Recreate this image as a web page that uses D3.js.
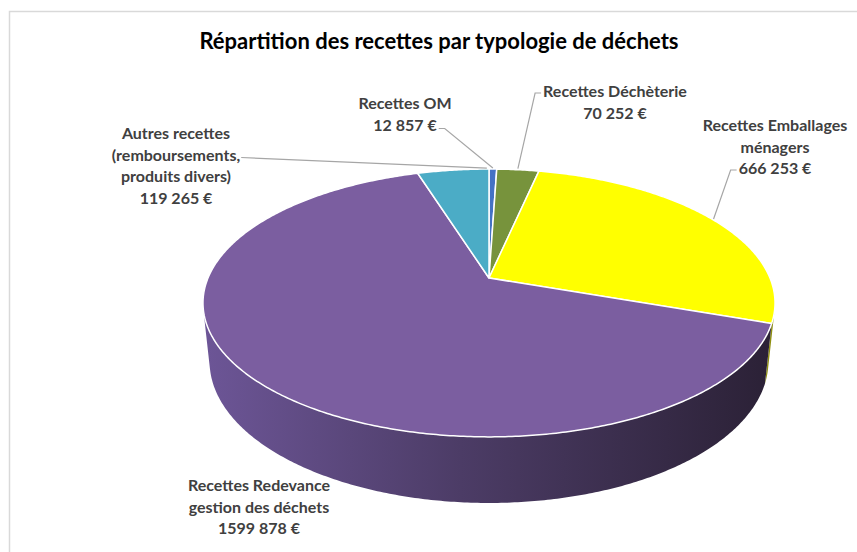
<!DOCTYPE html>
<html>
<head>
<meta charset="utf-8">
<script src="https://cdn.jsdelivr.net/npm/d3@7"></script>
<style>
  body { margin: 0; background: #fff; }
  svg { display: block; }
</style>
</head>
<body>
<svg id="chart" width="857" height="552"></svg>
<script>
// data, in pie order (clockwise from 12 o'clock)
const categories = ['Recettes OM', 'Recettes Déchèterie', 'Recettes Emballages ménagers',
    'Recettes Redevance gestion des déchets', 'Autres recettes (remboursements, produits divers)'];
const values = [12857, 70252, 666253, 1599878, 119265];
const valueLabels = ['12 857 €', '70 252 €', '666 253 €', '1599 878 €', '119 265 €'];
const labelLines = [
    ['Recettes OM', '12 857 €'],
    ['Recettes Déchèterie', '70 252 €'],
    ['Recettes Emballages', 'ménagers', '666 253 €'],
    ['Recettes Redevance', 'gestion des déchets', '1599 878 €'],
    ['Autres recettes', '(remboursements,', 'produits divers)', '119 265 €']
];

const topColors = ['#4472C4', '#77933C', '#FFFF00', '#7B5EA0', '#4BACC6'];
const sideColors = ['#2F4F8A', '#52672A', '#8F8F10', null, '#34798B'];

const width = 857;
const height = 552;

// 3d view
const cx = 489;
const cy = 278;
const A = 281;          // scale
const RD = 0.21;        // radius / camera distance
const sinA = 0.46;
const cosA = Math.sqrt(1 - sinA * sinA);
const thick = 0.236;    // thickness / radius

function projXYZ(X, y, Z) {
    const yc = y * cosA + Z * sinA;
    const zc = 1 + RD * (Z * cosA - y * sinA);
    return [cx + A * X / zc, cy - A * yc / zc];
}

function proj(theta, y) {
    return projXYZ(Math.sin(theta), y, Math.cos(theta));
}

function arcPoints(a0, a1, y) {
    const n = Math.max(2, Math.ceil((a1 - a0) / 0.01));
    return d3.range(n + 1).map(i => proj(a0 + (a1 - a0) * i / n, y));
}

const svg = d3.select('#chart');
const line = d3.line();

// chart border
svg.append('rect')
    .attr('x', 9.5).attr('y', 11.5)
    .attr('width', width).attr('height', height)
    .attr('fill', '#fff')
    .attr('stroke', '#d9d9d9')
    .attr('stroke-width', 1.5);

svg.append('text')
    .attr('x', 439).attr('y', 49)
    .attr('text-anchor', 'middle')
    .attr('font-family', 'Lato, "Open Sans", sans-serif')
    .attr('font-weight', 'bold')
    .attr('font-size', 22)
    .attr('fill', '#000')
    .text('Répartition des recettes par typologie de déchets');

const pie = d3.pie().sort(null).value(d => d);
const arcs = pie(values);

// side gradient
const defs = svg.append('defs');
const grad = defs.append('linearGradient')
    .attr('id', 'sideGrad')
    .attr('gradientUnits', 'userSpaceOnUse')
    .attr('x1', cx - A).attr('x2', cx + A)
    .attr('y1', 0).attr('y2', 0);
grad.append('stop').attr('offset', '0%').attr('stop-color', '#6C5596');
grad.append('stop').attr('offset', '45%').attr('stop-color', '#4C3C66');
grad.append('stop').attr('offset', '100%').attr('stop-color', '#2B2136');

// visible range of the outer wall
const vis0 = Math.acos(-RD / cosA);
const vis1 = 2 * Math.PI - vis0;

const sides = svg.append('g');
arcs.forEach((a, i) => {
    const s = Math.max(a.startAngle, vis0);
    const e = Math.min(a.endAngle, vis1);
    if (e <= s) return;
    const pts = arcPoints(s, e, 0).concat(arcPoints(s, e, -thick).reverse());
    sides.append('path')
        .attr('d', line(pts) + 'Z')
        .attr('fill', i === 3 ? 'url(#sideGrad)' : sideColors[i]);
});

const center = projXYZ(0, 0, 0);
const tops = svg.append('g');
arcs.forEach((a, i) => {
    const pts = [center].concat(arcPoints(a.startAngle, a.endAngle, 0));
    tops.append('path')
        .attr('d', line(pts) + 'Z')
        .attr('fill', topColors[i])
        .attr('stroke', '#fff')
        .attr('stroke-width', 1.5)
        .attr('stroke-linejoin', 'round');
});

// labels
const labelPos = [
    { x: 405, y: 105, anchor: 0.5 },
    { x: 615, y: 93, anchor: 0.5 },
    { x: 775, y: 127, anchor: 0.5 },
    { x: 259, y: 487, anchor: null },
    { x: 176, y: 135, anchor: 0.97 }
];
const lineGap = 21.5;

const labels = svg.append('g')
    .attr('font-family', 'Lato, "Open Sans", sans-serif')
    .attr('font-weight', 'bold')
    .attr('font-size', 16)
    .attr('fill', '#404040')
    .attr('text-anchor', 'middle');

const leaders = svg.append('g')
    .attr('fill', 'none')
    .attr('stroke', '#a6a6a6')
    .attr('stroke-width', 1.2);

arcs.forEach((a, i) => {
    const p = labelPos[i];
    const txt = labels.append('text')
        .attr('x', p.x).attr('y', p.y)
        .attr('dominant-baseline', 'middle');
    labelLines[i].forEach((l, j) => {
        txt.append('tspan')
            .attr('x', p.x)
            .attr('y', p.y + j * lineGap)
            .text(l);
    });
    if (p.anchor === null) return;
    const ang = a.startAngle + (a.endAngle - a.startAngle) * p.anchor;
    const target = proj(ang, 0);
    target[1] -= 1;
    let pts;
    if (i === 0) {
        const w = txt.select('tspan:nth-child(2)').node().getComputedTextLength();
        const y0 = p.y + lineGap + 2;
        pts = [[p.x + w / 2 + 2, y0], [p.x + w / 2 + 8, y0], target];
    } else if (i === 1) {
        const w = txt.select('tspan:nth-child(1)').node().getComputedTextLength();
        const y0 = p.y;
        pts = [[p.x - w / 2 - 2, y0], [p.x - w / 2 - 8, y0], target];
    } else if (i === 2) {
        const w = txt.select('tspan:nth-child(3)').node().getComputedTextLength();
        const y0 = p.y + 2 * lineGap;
        pts = [[p.x - w / 2 - 2, y0], [p.x - w / 2 - 8, y0], target];
    } else {
        const w = txt.select('tspan:nth-child(2)').node().getComputedTextLength();
        const y0 = p.y + lineGap + 1;
        pts = [[p.x + w / 2 + 1, y0], target];
    }
    leaders.append('path').attr('d', line(pts));
});
</script>
</body>
</html>
